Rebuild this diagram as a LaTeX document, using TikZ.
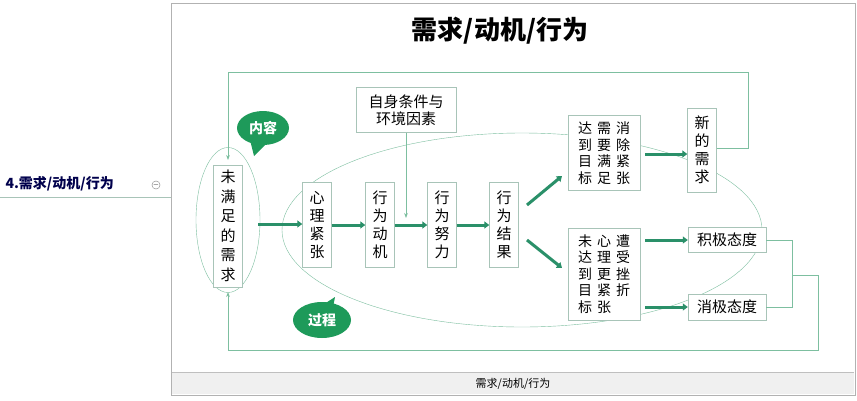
\documentclass[tikz,border=0pt]{standalone}
\usepackage{fontspec}
\setmainfont{Noto Sans CJK SC}
\usetikzlibrary{arrows.meta,shapes.geometric}
\definecolor{tg}{HTML}{2A9069}
\definecolor{lg}{HTML}{7DBFA0}
\definecolor{bg}{HTML}{A8C4B8}
\definecolor{bub}{HTML}{1E9A5A}
\newcommand{\gp}{\hspace{5pt}}
\begin{document}
\begin{tikzpicture}[x=1pt,y=-1pt,
 box/.style={draw=bg,fill=white,inner sep=2pt,font=\fontsize{15}{18}\selectfont,align=center},
 vbox/.style={box,minimum width=29pt},
 thick arr/.style={tg,line width=3pt,-{Triangle[length=5pt,width=7pt]}},
 thin/.style={lg,line width=0.8pt},
 thin arr/.style={thin,-{Stealth[length=5pt]}}]
\useasboundingbox (0,0) rectangle (857,400);
\draw[draw=gray!60,fill=white] (171,3) rectangle (855,395);
\fill[gray!12] (172,372) rectangle (854,394);
\draw[gray!50] (172,372) -- (854,372);
\node[font=\fontsize{11}{12}\selectfont] (status) at (513,384) {需求/动机/行为};
\node[font=\fontsize{26}{28}\selectfont\bfseries] (title) at (500,31) {需求/动机/行为};
\node[font=\fontsize{14}{16}\selectfont\bfseries,anchor=west,text=blue!30!black] (topic) at (2,184) {4.需求/动机/行为};
\draw[bg] (0,197) -- (171,197);
\node[draw=gray,circle,inner sep=0pt,minimum size=8pt,font=\fontsize{7}{7}\selectfont] (col) at (156,185) {$-$};
% ellipses
\node[draw=lg,ellipse,minimum width=480pt,minimum height=194pt] (big) at (522,230) {};
\node[draw=lg,ellipse,minimum width=64pt,minimum height=145pt] (sm) at (228,220) {};
% boxes
\node[vbox,minimum height=122pt,font=\fontsize{15}{19.5}\selectfont] (a) at (228,226) {未\\满\\足\\的\\需\\求};
\node[vbox,minimum height=85pt] (b) at (317,225) {心\\理\\紧\\张};
\node[vbox,minimum height=85pt] (c) at (380,225) {行\\为\\动\\机};
\node[vbox,minimum height=85pt] (d) at (442,225) {行\\为\\努\\力};
\node[vbox,minimum height=85pt] (e) at (504,225) {行\\为\\结\\果};
\node[box,minimum width=100pt,minimum height=45pt,font=\fontsize{15}{17}\selectfont] (f) at (406,110) {自身条件与\\环境因素};
\node[box,minimum width=72pt,align=left,minimum height=75pt,font=\fontsize{14}{16.5}\selectfont] (g) at (604,153) {达\gp 需\gp 消\\到\gp 要\gp 除\\目\gp 满\gp 紧\\标\gp 足\gp 张};
\node[box,minimum width=72pt,align=left,minimum height=92pt,font=\fontsize{14}{16.5}\selectfont] (h) at (604,274) {未\gp 心\gp 遭\\达\gp 理\gp 受\\到\gp 更\gp 挫\\目\gp 紧\gp 折\\标\gp 张};
\node[vbox,minimum height=84pt] (i) at (702,150) {新\\的\\需\\求};
\node[box,minimum width=78pt,minimum height=25pt] (j) at (727,240) {积极态度};
\node[box,minimum width=78pt,minimum height=26pt] (k) at (727,307) {消极态度};
% thick arrows
\draw[thick arr] (258,224) -- (b.west|-0,224);
\draw[thick arr] (b.east|-0,225) -- (c.west|-0,225);
\draw[thick arr] (c.east|-0,225) -- (d.west|-0,225);
\draw[thick arr] (d.east|-0,225) -- (e.west|-0,225);
\draw[thick arr] (527,205) -- (562,176);
\draw[thick arr] (527,240) -- (562,268);
\draw[thick arr] (645,154) -- (i.west|-0,154);
\draw[thick arr] (645,240) -- (j.west);
\draw[thick arr] (645,307) -- (k.west);
% thin connectors
\coordinate (t1) at (748,148);
\draw[thin arr] (i.east|-t1) -- (t1) -- (748,72) -- (228,72) -- (228,160);
\draw[thin arr] (f.south) -- (406,218);
\draw[thin] (j.east) -- (792,240) -- (792,307) -- (k.east);
\draw[thin arr] (792,275) -- (818,275) -- (818,350) -- (228,350) -- (228,292);
% bubbles
\fill[bub] (250,140) -- (254,156) -- (268,142) -- cycle;
\node[ellipse,fill=bub,text=white,font=\fontsize{14}{16}\selectfont\bfseries,minimum width=52pt,minimum height=34pt] (nr) at (263,128) {内容};
\fill[bub] (318,308) -- (335,297) -- (332,312) -- cycle;
\node[ellipse,fill=bub,text=white,font=\fontsize{14}{16}\selectfont\bfseries,minimum width=58pt,minimum height=36pt] (gc) at (322,320) {过程};
\end{tikzpicture}
\end{document}
